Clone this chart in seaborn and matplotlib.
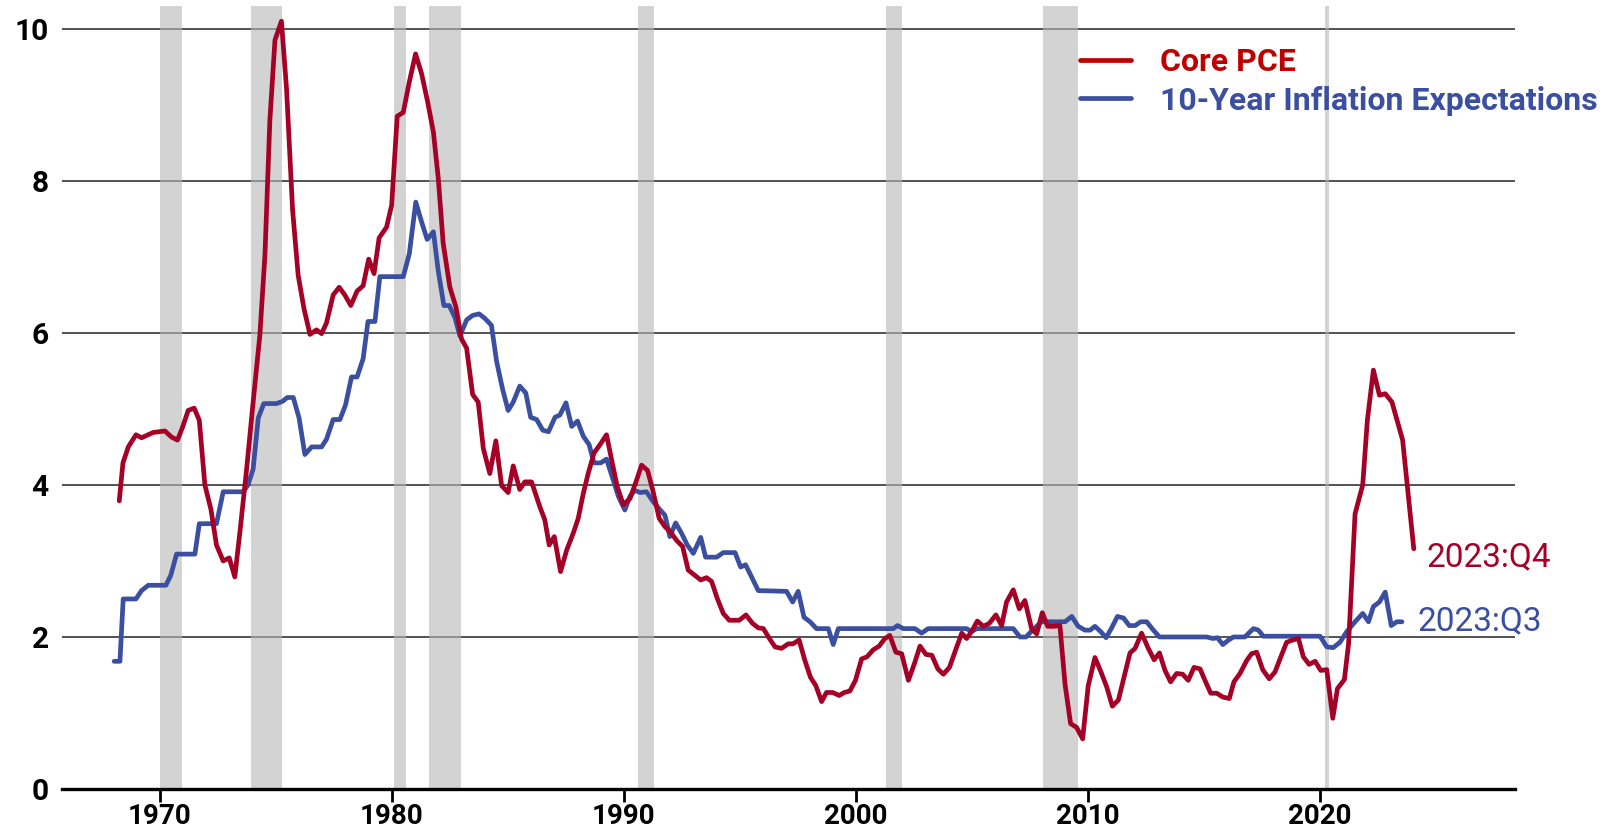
import numpy as np
import pandas as pd
import matplotlib
matplotlib.use('Agg')
import matplotlib.pyplot as plt
from matplotlib.lines import Line2D
import seaborn as sns

# ─────────────────────────────────────────────
# DATA
# ─────────────────────────────────────────────
pce_year = [
    1968.25, 1968.41, 1968.64, 1968.97, 1969.21, 1969.71, 1970.22, 1970.50, 1970.76, 1970.98,
    1971.22, 1971.48, 1971.70, 1971.94, 1972.20, 1972.44, 1972.73, 1972.99, 1973.23, 1973.45,
    1973.74, 1974.02, 1974.31, 1974.53, 1974.74, 1974.96, 1975.24, 1975.46, 1975.72, 1975.96,
    1976.21, 1976.47, 1976.75, 1976.97, 1977.18, 1977.47, 1977.73, 1977.97, 1978.23, 1978.50,
    1978.76, 1979.00, 1979.23, 1979.45, 1979.77, 1979.99, 1980.23, 1980.49, 1980.75, 1981.02,
    1981.28, 1981.54, 1981.79, 1982.00, 1982.21, 1982.50, 1982.76, 1983.00, 1983.22, 1983.48,
    1983.72, 1983.94, 1984.22, 1984.48, 1984.73, 1985.01, 1985.23, 1985.51, 1985.73, 1986.02,
    1986.38, 1986.59, 1986.78, 1987.00, 1987.27, 1987.53, 1987.81, 1988.03, 1988.25, 1988.46,
    1988.71, 1988.97, 1989.25, 1989.47, 1989.71, 1989.97, 1990.26, 1990.52, 1990.76, 1991.02,
    1991.26, 1991.52, 1991.77, 1992.01, 1992.27, 1992.53, 1992.77, 1993.06, 1993.31, 1993.56,
    1993.78, 1994.02, 1994.28, 1994.54, 1994.97, 1995.26, 1995.54, 1995.79, 1996.01, 1996.27,
    1996.51, 1996.79, 1997.08, 1997.29, 1997.55, 1997.80, 1998.04, 1998.27, 1998.52, 1998.73,
    1998.99, 1999.28, 1999.50, 1999.74, 1999.98, 2000.24, 2000.48, 2000.74, 2001.00, 2001.25,
    2001.46, 2001.72, 2001.97, 2002.26, 2002.52, 2002.76, 2003.02, 2003.27, 2003.53, 2003.77,
    2004.03, 2004.32, 2004.56, 2004.77, 2004.98, 2005.23, 2005.49, 2005.75, 2006.03, 2006.28,
    2006.49, 2006.78, 2007.04, 2007.28, 2007.57, 2007.79, 2008.03, 2008.26, 2008.51, 2008.79,
    2009.01, 2009.25, 2009.51, 2009.77, 2010.01, 2010.30, 2010.56, 2010.81, 2011.05, 2011.31,
    2011.55, 2011.81, 2012.03, 2012.31, 2012.60, 2012.85, 2013.08, 2013.32, 2013.56, 2013.82,
    2014.08, 2014.32, 2014.57, 2014.83, 2015.04, 2015.29, 2015.55, 2015.81, 2016.09, 2016.29,
    2016.55, 2016.84, 2017.05, 2017.27, 2017.53, 2017.81, 2018.06, 2018.30, 2018.56, 2018.82,
    2019.07, 2019.28, 2019.53, 2019.79, 2020.03, 2020.29, 2020.55, 2020.75, 2021.05, 2021.23,
    2021.51, 2021.84, 2022.04, 2022.30, 2022.56, 2022.81, 2023.10, 2023.56, 2024.04,
]
pce_value = [
    3.79, 4.29, 4.50, 4.66, 4.62, 4.69, 4.71, 4.63, 4.59, 4.76,
    4.98, 5.01, 4.85, 4.00, 3.68, 3.21, 3.00, 3.04, 2.79, 3.38,
    4.21, 5.09, 5.97, 7.03, 8.79, 9.85, 10.10, 9.21, 7.62, 6.76,
    6.32, 5.98, 6.04, 5.99, 6.13, 6.50, 6.60, 6.50, 6.36, 6.55,
    6.62, 6.97, 6.78, 7.25, 7.39, 7.68, 8.85, 8.90, 9.30, 9.67,
    9.41, 9.04, 8.64, 8.03, 7.18, 6.60, 6.34, 5.92, 5.80, 5.19,
    5.09, 4.48, 4.15, 4.58, 3.99, 3.90, 4.25, 3.94, 4.04, 4.04,
    3.71, 3.54, 3.21, 3.32, 2.86, 3.14, 3.36, 3.56, 3.89, 4.15,
    4.42, 4.53, 4.66, 4.33, 3.98, 3.74, 3.82, 4.04, 4.26, 4.19,
    3.91, 3.56, 3.45, 3.38, 3.27, 3.19, 2.88, 2.81, 2.75, 2.78,
    2.73, 2.51, 2.31, 2.22, 2.22, 2.29, 2.18, 2.12, 2.11, 1.98,
    1.87, 1.85, 1.91, 1.91, 1.96, 1.69, 1.47, 1.36, 1.15, 1.27,
    1.27, 1.23, 1.27, 1.29, 1.43, 1.71, 1.74, 1.83, 1.88, 1.98,
    2.02, 1.80, 1.78, 1.43, 1.65, 1.88, 1.77, 1.76, 1.58, 1.51,
    1.60, 1.85, 2.05, 1.98, 2.07, 2.21, 2.14, 2.18, 2.29, 2.15,
    2.46, 2.62, 2.37, 2.48, 2.11, 2.04, 2.32, 2.14, 2.14, 2.15,
    1.38, 0.86, 0.81, 0.66, 1.36, 1.73, 1.54, 1.34, 1.09, 1.17,
    1.47, 1.79, 1.85, 2.05, 1.85, 1.70, 1.79, 1.56, 1.41, 1.52,
    1.51, 1.43, 1.60, 1.58, 1.43, 1.26, 1.26, 1.21, 1.19, 1.41,
    1.52, 1.69, 1.78, 1.80, 1.57, 1.45, 1.54, 1.73, 1.93, 1.96,
    1.98, 1.74, 1.64, 1.68, 1.56, 1.57, 0.93, 1.32, 1.44, 1.91,
    3.62, 4.00, 4.85, 5.51, 5.18, 5.20, 5.09, 4.59, 3.16,
]

exp_year = [
    1968.03, 1968.28, 1968.42, 1968.97, 1969.21, 1969.50, 1970.26, 1970.47, 1970.72, 1971.51,
    1971.70, 1972.44, 1972.73, 1973.59, 1973.80, 1974.02, 1974.24, 1974.48, 1975.03, 1975.29,
    1975.49, 1975.75, 1976.00, 1976.25, 1976.54, 1976.97, 1977.18, 1977.47, 1977.76, 1978.00,
    1978.26, 1978.50, 1978.76, 1978.97, 1979.27, 1979.48, 1980.49, 1980.75, 1981.03, 1981.28,
    1981.52, 1981.79, 1982.00, 1982.24, 1982.47, 1982.72, 1982.93, 1983.22, 1983.48, 1983.76,
    1984.01, 1984.29, 1984.51, 1984.77, 1985.01, 1985.23, 1985.51, 1985.77, 1985.98, 1986.24,
    1986.50, 1986.75, 1987.03, 1987.24, 1987.50, 1987.75, 1988.00, 1988.25, 1988.50, 1988.71,
    1989.00, 1989.25, 1989.47, 1989.76, 1990.04, 1990.26, 1990.47, 1990.69, 1990.97, 1991.26,
    1991.51, 1991.77, 1991.98, 1992.23, 1992.49, 1992.73, 1992.99, 1993.31, 1993.52, 1994.00,
    1994.28, 1994.79, 1995.03, 1995.24, 1995.47, 1995.79, 1997.01, 1997.27, 1997.51, 1997.76,
    1998.02, 1998.30, 1998.81, 1999.02, 1999.24, 2001.61, 2001.79, 2002.04, 2002.54, 2002.83,
    2003.11, 2004.77, 2004.98, 2005.20, 2006.78, 2007.07, 2007.33, 2007.64, 2008.00, 2009.01,
    2009.30, 2009.58, 2009.87, 2010.09, 2010.30, 2010.55, 2010.78, 2011.02, 2011.27, 2011.53,
    2011.78, 2012.03, 2012.27, 2012.53, 2012.79, 2013.08, 2015.12, 2015.38, 2015.58, 2015.81,
    2016.06, 2016.27, 2016.76, 2017.13, 2017.34, 2017.56, 2020.00, 2020.29, 2020.57, 2020.86,
    2021.15, 2021.51, 2021.84, 2022.09, 2022.30, 2022.56, 2022.81, 2023.07, 2023.31, 2023.53,
]
exp_value = [
    1.68, 1.68, 2.50, 2.50, 2.61, 2.68, 2.68, 2.81, 3.09, 3.09,
    3.49, 3.49, 3.91, 3.91, 4.00, 4.21, 4.88, 5.07, 5.07, 5.10,
    5.15, 5.15, 4.88, 4.40, 4.50, 4.50, 4.60, 4.86, 4.86, 5.05,
    5.42, 5.42, 5.66, 6.15, 6.15, 6.74, 6.74, 7.04, 7.72, 7.46,
    7.23, 7.33, 6.81, 6.36, 6.36, 6.20, 5.96, 6.17, 6.23, 6.25,
    6.19, 6.10, 5.63, 5.26, 4.98, 5.09, 5.30, 5.21, 4.89, 4.86,
    4.72, 4.70, 4.89, 4.92, 5.08, 4.77, 4.84, 4.64, 4.53, 4.29,
    4.29, 4.34, 4.13, 3.85, 3.67, 3.85, 3.93, 3.90, 3.91, 3.78,
    3.69, 3.60, 3.32, 3.50, 3.36, 3.21, 3.10, 3.31, 3.05, 3.05,
    3.11, 3.11, 2.92, 2.95, 2.81, 2.61, 2.60, 2.46, 2.60, 2.26,
    2.20, 2.11, 2.11, 1.90, 2.11, 2.11, 2.15, 2.11, 2.11, 2.05,
    2.11, 2.11, 2.07, 2.11, 2.11, 2.00, 2.00, 2.10, 2.20, 2.20,
    2.27, 2.14, 2.09, 2.09, 2.14, 2.07, 1.99, 2.12, 2.27, 2.25,
    2.15, 2.15, 2.20, 2.20, 2.10, 2.00, 2.00, 1.98, 1.99, 1.90,
    1.96, 2.00, 2.00, 2.11, 2.09, 2.01, 2.01, 1.87, 1.86, 1.93,
    2.07, 2.20, 2.31, 2.20, 2.40, 2.46, 2.59, 2.15, 2.20, 2.20,
]

rec_start = [1970.00, 1973.92, 1980.09, 1981.60, 1990.62, 2001.29, 2008.06, 2020.20]
rec_end   = [1970.95, 1975.26, 1980.60, 1982.97, 1991.29, 2001.98, 2009.57, 2020.37]

Y_TICKS = [0, 2, 4, 6, 8, 10]
X_TICKS = [1970, 1980, 1990, 2000, 2010, 2020]

RED       = '#A50026'
RED_LEG   = '#C00000'
BLUE      = '#3A4FA0'
GRID      = '#444444'

sns.set_theme(style='white')
plt.rcParams['font.family'] = ['Roboto', 'DejaVu Sans']

pce_df = pd.DataFrame({'year': pce_year, 'value': pce_value})
exp_df = pd.DataFrame({'year': exp_year, 'value': exp_value})

# ─────────────────────────────────────────────
# FIGURE
# ─────────────────────────────────────────────
fig = plt.figure(figsize=(16.13, 8.33), dpi=100)
ax = fig.add_axes([0.0384, 0.0528, 0.9008, 0.94])

# recession shading
for s, e in zip(rec_start, rec_end):
    ax.axvspan(s, e, ymin=0, ymax=1, color='#B6B6B6', alpha=0.6, lw=0, zorder=1)

sns.lineplot(data=exp_df, x='year', y='value', ax=ax, color=BLUE, lw=3.4,
             estimator=None, sort=False, zorder=3)
sns.lineplot(data=pce_df, x='year', y='value', ax=ax, color=RED, lw=3.4,
             estimator=None, sort=False, zorder=4)

ax.set_xlim(1965.78, 2028.4)
ax.set_ylim(0, 10.3)
ax.set_xticks(X_TICKS)
ax.set_yticks(Y_TICKS)
ax.set_xlabel('')
ax.set_ylabel('')

ax.yaxis.grid(True, color=GRID, lw=1.3)
ax.xaxis.grid(False)
ax.set_axisbelow(True)

for side in ['top', 'right', 'left']:
    ax.spines[side].set_visible(False)
ax.spines['bottom'].set_color('black')
ax.spines['bottom'].set_linewidth(2.4)
ax.spines['bottom'].set_zorder(5)

ax.tick_params(axis='x', direction='out', length=9, width=2, color='black', pad=1,
               labelsize=20, bottom=True)
ax.tick_params(axis='y', length=0, pad=9.5, labelsize=21.5)
for lab in ax.get_xticklabels() + ax.get_yticklabels():
    lab.set_fontweight('bold')
    lab.set_color('black')

# end-of-series labels
ax.text(2024.6, 3.05, '2023:Q4', color=RED, fontsize=24, ha='left', va='center')
ax.text(2024.2, 2.2, '2023:Q3', color=BLUE, fontsize=24, ha='left', va='center')

# legend
handles = [Line2D([0], [0], color=RED_LEG, lw=3.4),
           Line2D([0], [0], color=BLUE, lw=3.4)]
leg = ax.legend(handles, ['Core PCE', '10-Year Inflation Expectations'],
                loc='upper left', bbox_to_anchor=(1080 / 1613, 1 - 47 / 833),
                bbox_transform=fig.transFigure, frameon=False,
                prop={'weight': 'bold', 'size': 23},
                handlelength=1.6, handletextpad=0.9, labelspacing=0.27,
                borderpad=0, borderaxespad=0,
                labelcolor=[RED_LEG, BLUE])

fig.savefig('out.png', dpi=100)
